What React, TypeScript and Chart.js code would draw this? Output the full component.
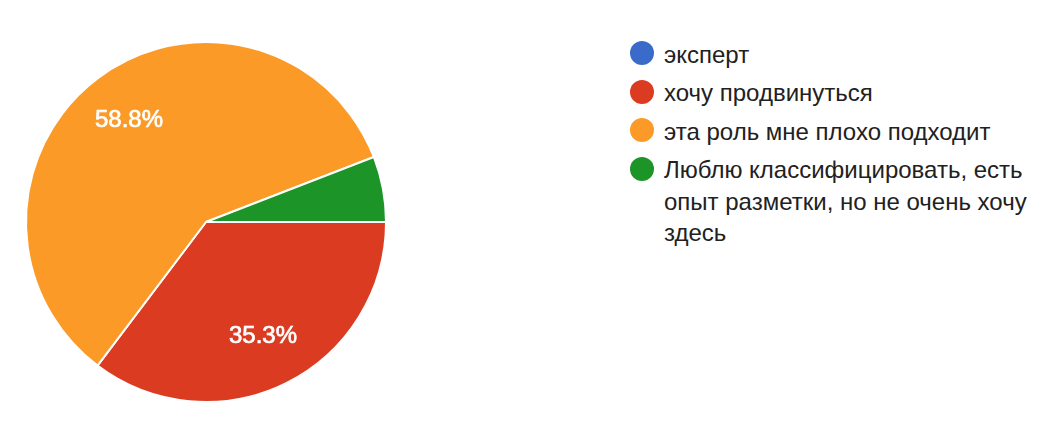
import React, { useEffect, useRef } from "react";
import { Chart, registerables } from "chart.js";

Chart.register(...registerables);

const categories = [
  "эксперт",
  "хочу продвинуться",
  "эта роль мне плохо подходит",
  "Люблю классифицировать, есть опыт разметки, но не очень хочу здесь",
];
const counts = [0, 6, 10, 1];
const colors = ["#3a6bcb", "#db3b21", "#fc9a28", "#1c9428"];
const minLabelFraction = 0.08;

const FONT = "'Liberation Sans', Arial, sans-serif";

const sliceLabels = {
  id: "sliceLabels",
  afterDatasetsDraw(chart: any) {
    const ctx = chart.ctx;
    const meta = chart.getDatasetMeta(0);
    const data = chart.data.datasets[0].data as number[];
    const total = data.reduce((a, b) => a + b, 0);
    ctx.save();
    ctx.fillStyle = "#ffffff";
    ctx.strokeStyle = "#ffffff";
    ctx.lineWidth = 0.7;
    ctx.font = `24px ${FONT}`;
    ctx.textAlign = "center";
    ctx.textBaseline = "middle";
    meta.data.forEach((arc: any, i: number) => {
      const frac = data[i] / total;
      if (frac < minLabelFraction) return;
      const { x, y, startAngle, endAngle, outerRadius } = arc.getProps(
        ["x", "y", "startAngle", "endAngle", "outerRadius"],
        true
      );
      const mid = (startAngle + endAngle) / 2;
      const r = outerRadius * 0.71;
      const tx = x + Math.cos(mid) * r;
      const ty = y + Math.sin(mid) * r;
      const text = (frac * 100).toFixed(1) + "%";
      ctx.fillText(text, tx, ty);
      ctx.strokeText(text, tx, ty);
    });
    ctx.restore();
  },
};

export default function App() {
  const ref = useRef<HTMLCanvasElement>(null);
  useEffect(() => {
    if (!ref.current) return;
    const chart = new Chart(ref.current, {
      type: "pie",
      data: {
        labels: categories,
        datasets: [
          {
            data: counts,
            backgroundColor: colors,
            borderColor: "#ffffff",
            borderWidth: 2,
          },
        ],
      },
      options: {
        responsive: false,
        animation: false,
        rotation: 90,
        layout: { padding: { left: 25, right: 33, top: 41, bottom: 21 } },
        plugins: {
          legend: { display: false },
          tooltip: { enabled: false },
        },
      },
      plugins: [sliceLabels],
    });
    return () => chart.destroy();
  }, []);

  return (
    <div
      style={{
        position: "fixed",
        left: 0,
        top: 0,
        width: 1052,
        height: 424,
        background: "#ffffff",
        overflow: "hidden",
      }}
    >
      <canvas ref={ref} width={420} height={424} style={{ position: "absolute", left: 0, top: 0 }} />
      <div
        style={{
          position: "absolute",
          left: 630,
          top: 38.5,
          width: 415,
          display: "flex",
          flexDirection: "column",
          gap: 7,
          fontFamily: FONT,
          fontSize: 24,
          lineHeight: "31.5px",
          color: "#212121",
        }}
      >
        {categories.map((c, i) => (
          <div key={i} style={{ position: "relative", paddingLeft: 34 }}>
            <span
              style={{
                position: "absolute",
                left: 0,
                top: 2.7,
                width: 24,
                height: 24,
                borderRadius: "50%",
                background: colors[i],
              }}
            />
            {c}
          </div>
        ))}
      </div>
    </div>
  );
}
